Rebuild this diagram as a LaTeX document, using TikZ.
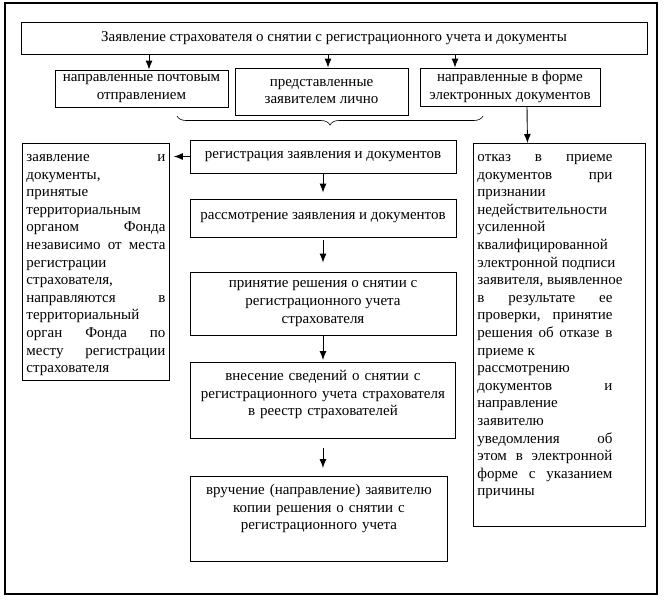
\documentclass[tikz,border=0pt]{standalone}
\usepackage{fontspec}
\setmainfont{Liberation Serif}
\usetikzlibrary{arrows.meta,decorations.pathreplacing}

\begin{document}
\begin{tikzpicture}
  [
    x=1pt, y=-1pt,
    >={Latex[length=9pt,width=7pt]},
    stepbox/.style = {draw, line width=0.9pt, align=center, inner sep=2pt,
                      font=\fontsize{15}{17.6}\selectfont},
    notebox/.style = {stepbox, anchor=north west, inner xsep=4pt, inner ysep=7pt,
                      text height=11pt},
    link/.style    = {->, line width=0.9pt},
  ]

%Page and the frame round the whole scheme
\useasboundingbox (0,0) rectangle (666,600);
\draw[line width=1.3pt] (5,3) rectangle (657,594);

%The application and the three ways it comes in
\node[stepbox, minimum width=626pt, minimum height=32pt] (claim) at (334,38)
  {Заявление страхователя о снятии с регистрационного учета и документы};
\node[stepbox, minimum width=173pt, minimum height=37pt] (post) at (141.5,88.5)
  {направленные почтовым\\отправлением};
\node[stepbox, minimum width=173pt, minimum height=47pt] (personal) at (321.5,91.5)
  {представленные\\заявителем лично};
\node[stepbox, minimum width=180pt, minimum height=38pt] (digital) at (510,87)
  {направленные в форме\\электронных документов};

\draw[link] ([xshift=7.5pt]claim.south -| post.north) -- ([xshift=7.5pt]post.north);
\draw[link] ([xshift=6.5pt]claim.south -| personal.north) -- ([xshift=6.5pt]personal.north);
\draw[link] ([xshift=-55pt]claim.south -| digital.north) -- ([xshift=-55pt]digital.north);

%Brace under the three ways
\draw[decorate, decoration={brace, mirror, amplitude=9pt}, line width=0.6pt]
  (177,116) -- (483,116);

%Main column
\node[stepbox, minimum width=266pt, minimum height=33pt] (reg) at (323,156.5)
  {регистрация заявления и документов};
\node[stepbox, minimum width=266pt, minimum height=38pt] (exam) at (323,218)
  {рассмотрение заявления и документов};
\node[stepbox, minimum width=266pt, minimum height=63pt] (decide) at (323,303.5)
  {принятие решения о снятии с\\регистрационного учета\\страхователя};
\node[notebox, text width=257pt, text depth=51pt] (enter) at (190,362)
  {внесение сведений о снятии с\\регистрационного учета страхователя\\в реестр страхователей};
\node[notebox, text width=249pt, text depth=60pt] (hand) at (190,476)
  {вручение (направление) заявителю\\копии решения о снятии с\\регистрационного учета};

%Side boxes
\node[notebox, align=justify, text width=139pt, text depth=212pt] (kept) at (22,143)
  {заявление и\linebreak документы,\newline принятые\newline территориальным\newline
   органом Фонда\linebreak независимо от места\linebreak регистрации\newline
   страхователя,\newline направляются в\linebreak территориальный\newline
   орган Фонда по\linebreak месту регистрации\linebreak страхователя};
\node[notebox, align=justify, text width=164pt, text depth=358pt] (refuse) at (473,143)
  {\parbox[t]{135pt}{\leftskip=0pt \rightskip=0pt
   отказ в приеме\linebreak документов при\linebreak признании\newline
   недействительности\newline усиленной\newline квалифицированной\newline
   \mbox{электронной подписи}\newline \mbox{заявителя, выявленное}\newline
   в результате ее\linebreak проверки, принятие\linebreak решения об отказе в\linebreak
   приеме к\newline рассмотрению\newline документов и\linebreak направление\newline
   заявителю\newline уведомления об\linebreak этом в электронной\linebreak
   форме с указанием\linebreak причины}};

%Arrows
\draw[link] ([xshift=17pt]digital.south) -- ([xshift=-32pt]refuse.north);
\draw[link, shorten >=4pt] (reg.west) -- (reg.west -| kept.east);
\draw[link, shorten >=6pt] (reg.south) -- (exam.north);
\draw[link, shorten <=3pt, shorten >=9pt] (exam.south) -- (decide.north);
\draw[link, shorten >=2pt] (decide.south) -- (decide.south |- enter.north);
\draw[link, shorten <=9pt, shorten >=8pt] (enter.south) -- (enter.south |- hand.north);
\end{tikzpicture}
\end{document}
